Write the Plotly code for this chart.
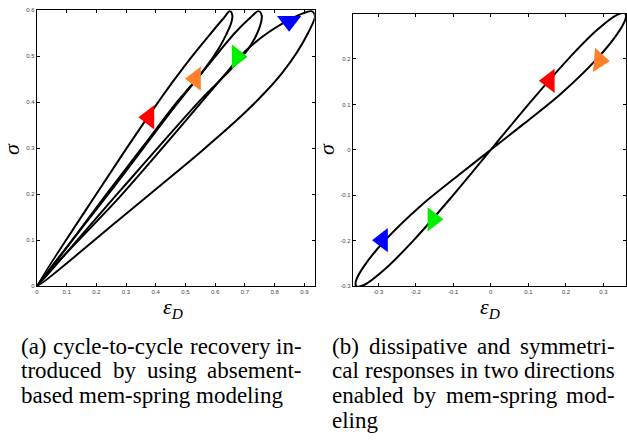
import plotly.graph_objects as go

# ---------------- data ----------------
# left panel: three nested loops, each origin -> tip -> origin
loop1_eps = [0, 0.208, 0.296, 0.393, 0.457, 0.519, 0.582, 0.629, 0.650, 0.658, 0.654, 0.638, 0.613,
             0.579, 0.540, 0.500, 0.471, 0.360, 0.244, 0]
loop1_sig = [0, 0.208, 0.294, 0.386, 0.444, 0.497, 0.547, 0.583, 0.598, 0.588, 0.572, 0.548, 0.518,
             0.485, 0.452, 0.422, 0.400, 0.306, 0.208, 0]
loop2_eps = [0, 0.250, 0.476, 0.611, 0.667, 0.717, 0.746, 0.757, 0.752, 0.738, 0.716, 0.686, 0.648,
             0.600, 0.544, 0.281, 0]
loop2_sig = [0, 0.208, 0.400, 0.508, 0.551, 0.583, 0.598, 0.588, 0.568, 0.545, 0.520, 0.495, 0.468,
             0.437, 0.400, 0.208, 0]
loop3_eps = [0, 0.279, 0.398, 0.509, 0.630, 0.700, 0.775, 0.846, 0.895, 0.925, 0.936, 0.913, 0.875,
             0.827, 0.769, 0.6915, 0.555, 0.395, 0.275, 0]
loop3_sig = [0, 0.194, 0.282, 0.366, 0.458, 0.510, 0.550, 0.578, 0.593, 0.598, 0.587, 0.551, 0.508,
             0.465, 0.422, 0.372, 0.294, 0.208, 0.1436, 0]

left_arrow_eps = [0.377, 0.534, 0.674, 0.849]
left_arrow_sig = [0.367, 0.451, 0.499, 0.576]

# right panel: pinched (figure-eight) loop
right_eps = [0, 0.106, 0.203, 0.282, 0.336, 0.357, 0.360, 0.357, 0.334, 0.280, 0.186, 0.086, 0,
             -0.086, -0.186, -0.280, -0.334, -0.357, -0.360, -0.357, -0.336, -0.282, -0.203, -0.106, 0]
right_sig = [0, 0.1055, 0.197, 0.263, 0.297, 0.301, 0.295, 0.284, 0.252, 0.198, 0.123, 0.056, 0,
             -0.056, -0.123, -0.198, -0.252, -0.284, -0.295, -0.301, -0.297, -0.263, -0.197, -0.1055, 0]

right_arrow_eps = [0.156, 0.289, -0.288, -0.154]
right_arrow_sig = [0.152, 0.197, -0.199, -0.153]

left_xticks = [0, 0.1, 0.2, 0.3, 0.4, 0.5, 0.6, 0.7, 0.8, 0.9]
left_xlabels = ["0", "0.1", "0.2", "0.3", "0.4", "0.5", "0.6", "0.7", "0.8", "0.9"]
left_yticks = [0, 0.1, 0.2, 0.3, 0.4, 0.5, 0.6]
left_ylabels = ["0", "0.1", "0.2", "0.3", "0.4", "0.5", "0.6"]
right_xticks = [-0.3, -0.2, -0.1, 0, 0.1, 0.2, 0.3]
right_xlabels = ["-0.3", "-0.2", "-0.1", "0", "0.1", "0.2", "0.3"]
right_yticks = [-0.3, -0.2, -0.1, 0, 0.1, 0.2]
right_ylabels = ["-0.3", "-0.2", "-0.1", "0", "0.1", "0.2"]

caption_a = ["(a) cycle-to-cycle recovery in-",
             "troduced by using absement-",
             "based mem-spring modeling"]
caption_b = ["(b) dissipative and symmetri-",
             "cal responses in two directions",
             "enabled by mem-spring mod-",
             "eling"]

# ---------------- styles ----------------
left_arrow_colors = ["#ff0000", "#ff7f2a", "#00ee00", "#0000ff"]
left_arrow_angles = [270, 270, 90, 180]
right_arrow_colors = ["#ff0000", "#ff7f2a", "#0000ff", "#00ee00"]
right_arrow_angles = [270, 95, 270, 90]

W, H = 627, 443
def px_x(p):
    return p / W
def px_y(p):
    return 1 - p / H

fig = go.Figure()
line_style = dict(color="black", width=2, shape="spline", smoothing=0.9)
for ex, sy in [(loop1_eps, loop1_sig), (loop2_eps, loop2_sig), (loop3_eps, loop3_sig)]:
    fig.add_trace(go.Scatter(x=ex, y=sy, mode="lines", line=line_style,
                             xaxis="x", yaxis="y", showlegend=False, hoverinfo="skip"))
fig.add_trace(go.Scatter(x=left_arrow_eps, y=left_arrow_sig, mode="markers",
                         marker=dict(symbol="triangle-up", size=21, color=left_arrow_colors,
                                     angle=left_arrow_angles, line=dict(width=0)),
                         xaxis="x", yaxis="y", showlegend=False))

fig.add_trace(go.Scatter(x=right_eps, y=right_sig, mode="lines", line=line_style,
                         xaxis="x2", yaxis="y2", showlegend=False, hoverinfo="skip"))
fig.add_trace(go.Scatter(x=right_arrow_eps, y=right_arrow_sig, mode="markers",
                         marker=dict(symbol="triangle-up", size=21, color=right_arrow_colors,
                                     angle=right_arrow_angles, line=dict(width=0)),
                         xaxis="x2", yaxis="y2", showlegend=False))

tickfont = dict(family="Liberation Sans, Arial", size=6, color="#444")
axis_common = dict(showline=True, linecolor="black", linewidth=1, mirror="ticks",
                   ticks="inside", ticklen=3, tickcolor="black", tickwidth=1,
                   showgrid=False, zeroline=False, tickfont=tickfont, fixedrange=True)

fig.update_layout(
    width=W, height=H,
    margin=dict(l=0, r=0, t=0, b=0),
    paper_bgcolor="white", plot_bgcolor="white",
    xaxis=dict(domain=[px_x(35), px_x(313.7)], range=[0, 0.935], anchor="y",
               tickvals=left_xticks, ticktext=left_xlabels, **axis_common),
    yaxis=dict(domain=[px_y(287), px_y(7.3)], range=[0, 0.6], anchor="x",
               tickvals=left_yticks, ticktext=left_ylabels, **axis_common),
    xaxis2=dict(domain=[px_x(352), px_x(626)], range=[-0.367, 0.36], anchor="y2",
                tickvals=right_xticks, ticktext=right_xlabels, **axis_common),
    yaxis2=dict(domain=[px_y(287), px_y(10.7)], range=[-0.3, 0.3], anchor="x2",
                tickvals=right_yticks, ticktext=right_ylabels, **axis_common),
)

serif = "Liberation Serif"
annotations = []
# axis titles
for xc, yc in [(172, 309), (490, 309)]:
    annotations.append(dict(text="<i>ε</i><sub><i>D</i></sub>", x=px_x(xc), y=px_y(yc),
                            xref="paper", yref="paper", showarrow=False,
                            font=dict(family=serif, size=22, color="black"),
                            xanchor="center", yanchor="middle"))
for xc, yc in [(10, 148), (326, 148)]:
    annotations.append(dict(text="<i>σ</i>", x=px_x(xc), y=px_y(yc),
                            xref="paper", yref="paper", showarrow=False,
                            font=dict(family=serif, size=22, color="black"),
                            xanchor="center", yanchor="middle", textangle=-90))

# captions: justified like the reference (Times advance widths, 1/1000 em)
TIMES = {'(': 333, ')': 333, 'a': 444, 'b': 500, 'c': 444, 'd': 500, 'e': 444, 'f': 333,
         'g': 500, 'h': 500, 'i': 278, 'k': 500, 'l': 278, 'm': 778, 'n': 500, 'o': 500,
         'p': 500, 'r': 333, 's': 389, 't': 278, 'u': 500, 'v': 500, 'w': 722, 'y': 500,
         '-': 333}
CAP_SIZE = 23

def word_w(w):
    return sum(TIMES.get(ch, 500) for ch in w) * CAP_SIZE / 1000.0

def add_line(text, x0, x1, yc, justify):
    cap_font = dict(family=serif, size=CAP_SIZE, color="black")
    base = dict(y=px_y(yc), xref="paper", yref="paper", showarrow=False, font=cap_font,
                yanchor="middle", borderpad=0, borderwidth=0)
    if not justify:
        annotations.append(dict(text=text, x=px_x(x0), xanchor="left", **base))
        return
    words = text.split(" ")
    widths = [word_w(w) for w in words]
    gap = (x1 - x0 - sum(widths)) / (len(words) - 1)
    x = x0
    for k, (w, wd) in enumerate(zip(words, widths)):
        if k == len(words) - 1:
            annotations.append(dict(text=w, x=px_x(x1), xanchor="right", **base))
        else:
            annotations.append(dict(text=w, x=px_x(x), xanchor="left", **base))
        x += wd + gap

for i, line in enumerate(caption_a):
    add_line(line, 19, 301, 348 + 25 * i, i < len(caption_a) - 1)
for i, line in enumerate(caption_b):
    add_line(line, 331, 615, 348 + 25 * i, i < len(caption_b) - 1)
fig.update_layout(annotations=annotations)

fig.write_html("out.html")
